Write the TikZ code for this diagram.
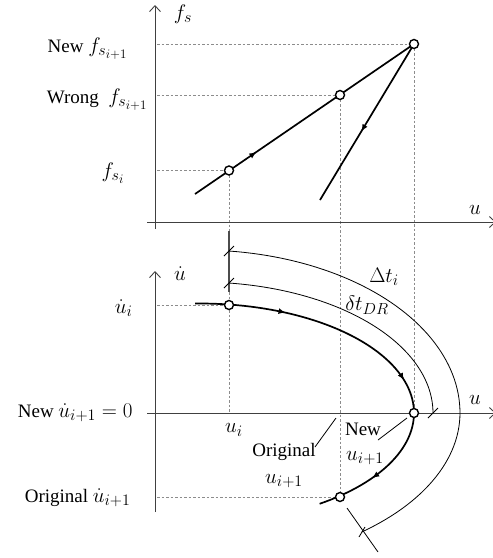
\RequirePackage{fix-cm}
\documentclass[tikz,border=0pt]{standalone}
\usepackage{fontspec}
\setmainfont{Liberation Serif}
\DeclareMathSizes{19}{21}{16}{13}
\usetikzlibrary{positioning,arrows.meta,decorations.markings}

\begin{document}
\begin{tikzpicture}[x=1pt, y=-1pt,
        font=\fontsize{19}{23}\selectfont,
        axis/.style={draw=black!75, line width=0.9pt, -{Straight Barb[length=6pt,width=11pt]}},
        guide/.style={draw=black!45, line width=0.7pt, dash pattern=on 2.5pt off 2pt},
        curve/.style={line width=1.7pt},
        dimline/.style={line width=0.8pt},
        extline/.style={draw=black!70, line width=1.2pt},
        dot/.style={circle, draw, line width=1.4pt, fill=white, inner sep=0pt, minimum size=9pt},
        midarrow/.style={postaction={decorate, decoration={markings,
            mark=at position #1 with {\arrow{Latex[length=7pt,width=6pt]}}}}},
    ]
    \useasboundingbox (0,0) rectangle (493,558);

    % points on the curves
    \coordinate (fi) at (229,170.5);
    \coordinate (fw) at (340,95);
    \coordinate (fn) at (414,44);
    \coordinate (loadA) at (195,194);
    \coordinate (unloadB) at (320,200);
    \coordinate (ui) at (229,305);
    \coordinate (un) at (414,413);
    \coordinate (uo) at (340,497);

    % guide lines
    \draw[guide] (157,44) -- (fn);
    \draw[guide] (157,95) -- (fw);
    \draw[guide] (157,170.5) -- (fi);
    \draw[guide] (fi) -- (229,413);
    \draw[guide] (fw) -- (uo);
    \draw[guide] (fn) -- (un);
    \draw[guide] (157,305) -- (ui);
    \draw[guide] (157,497) -- (uo);

    % axes
    \draw[axis] (155,229) -- (155,5);
    \draw[axis] (147,222) -- (496,222);
    \draw[axis] (155,512) -- (155,271);
    \draw[axis] (147,413) -- (496,413);

    % top plot
    \draw[curve, midarrow=0.28] (loadA) -- (fn);
    \draw[curve, midarrow=0.56] (fn) -- (unloadB);

    % time steps
    \draw[extline] (229,231) -- (229,292);
    \coordinate (dtA) at (229,251);
    \coordinate (dtB) at (362,532);
    \coordinate (drA) at (229,283);
    \coordinate (drB) at (433,413);
    \draw[dimline] plot[domain=-83.6:0, samples=50, variable=\t] ({200+260*cos(\t)},{413+163*sin(\t)})
        -- plot[domain=0:51.5, samples=30, variable=\t] ({200+260*cos(\t)},{413+152*sin(\t)});
    \draw[dimline] plot[domain=-82.85:0, samples=50, variable=\t] ({200+233*cos(\t)},{413+131*sin(\t)});
    \draw[dimline] (dtA) ++(-5,5) -- ++(10,-10);
    \draw[dimline] (drA) ++(-5,5) -- ++(10,-10);
    \draw[dimline] (drB) ++(-5,5) -- ++(10,-10);
    \draw[dimline] (dtB) ++(-3,5) -- ++(6,-10);
    \draw[dimline] (347,508) -- (378,552);

    % phase curve
    \draw[curve, midarrow=0.225, midarrow=0.57, midarrow=0.855]
        plot[domain=-91.3:56, samples=80, variable=\t] ({200+214*cos(\t)},{413+109.5*sin(\t)});

    \foreach \p in {fi,fw,fn,ui,un,uo}
        \node[dot] (d\p) at (\p) {};

    % leaders
    \coordinate (origA) at (315,447);
    \coordinate (origB) at (336,418);
    \coordinate (newA) at (378,440);
    \coordinate (newB) at (407,418);
    \draw[dimline] (origA) -- (origB);
    \draw[dimline] (newA) -- (newB);

    % labels
    \node (fsl) at (183,14) {$f_s$};
    \node (ul1) at (475,210) {$u$};
    \node[anchor=east] (lnew) at (131,49) {New $f_{s_{i+1}}$};
    \node[anchor=east] (lwrong) at (151,100) {Wrong\ \ $f_{s_{i+1}}$};
    \node[anchor=east] (lfi) at (128,173) {$f_{s_i}$};

    \node (udl) at (180,274) {$\dot u$};
    \node (ul2) at (475,400) {$u$};
    \node[anchor=east] (ludi) at (136,308) {$\dot u_i$};
    \node[anchor=east] (lnewud) at (136,413) {New $\dot u_{i+1}=0$};
    \node[anchor=east] (lorigud) at (134,498) {Original $\dot u_{i+1}$};
    \node (uil) at (234,430) {$u_i$};
    \node (origl) at (284,452) {Original};
    \node (origu) at (284,481) {$u_{i+1}$};
    \node (newl) at (363,429) {New};
    \node (newu) at (365,458) {$u_{i+1}$};
    \node (dtl) at (384,277) {$\Delta t_i$};
    \node (drl) at (367,305) {$\delta t_{DR}$};
\end{tikzpicture}
\end{document}
